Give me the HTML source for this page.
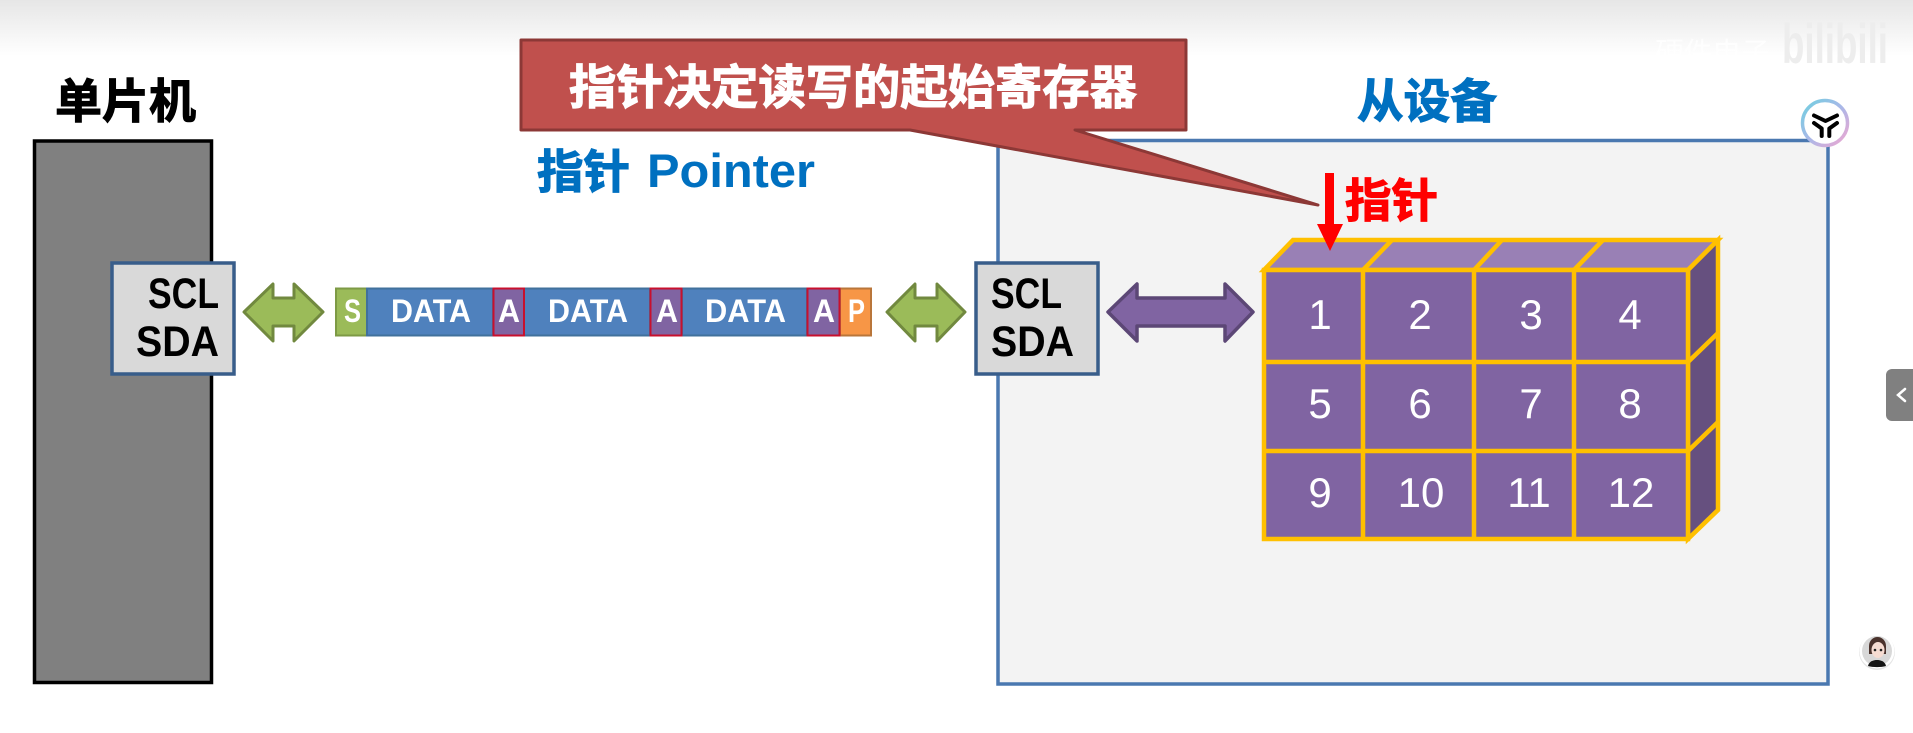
<!DOCTYPE html>
<html lang="zh-CN">
<head>
<meta charset="utf-8">
<title>指针 Pointer</title>
<style>
html,body{margin:0;padding:0;background:#fff;width:1913px;height:733px;overflow:hidden}
svg{display:block}
.cjk{font-family:"Liberation Sans","Noto Sans CJK SC",sans-serif;font-weight:700;stroke-width:1.1px;paint-order:stroke}
.lat{font-family:"Liberation Sans","Noto Sans CJK SC",sans-serif;font-weight:700}
.num{font-family:"Liberation Sans",sans-serif;font-size:42px;fill:#fff;text-anchor:middle}
</style>
</head>
<body>
<svg width="1913" height="733" viewBox="0 0 1913 733" xmlns="http://www.w3.org/2000/svg">
<defs>
<linearGradient id="top" x1="0" y1="0" x2="0" y2="1">
<stop offset="0" stop-color="#e6e6e6"/><stop offset="1" stop-color="#fff"/>
</linearGradient>
<linearGradient id="ring" x1="0" y1="0" x2="1" y2="1">
<stop offset="0" stop-color="#6fd0e0"/><stop offset="0.5" stop-color="#a9b8e8"/><stop offset="1" stop-color="#f0a6d0"/>
</linearGradient>
</defs>
<rect x="0" y="0" width="1913" height="56" fill="url(#top)"/>

<!-- watermark -->
<text x="1655" y="63" font-family="'Liberation Sans','Noto Sans CJK SC',sans-serif" font-size="29" fill="#fff" fill-opacity="0.75" textLength="115" lengthAdjust="spacingAndGlyphs">硬件电子</text>
<text x="1782" y="63" class="lat" font-size="56" fill="#ededed" textLength="106" lengthAdjust="spacingAndGlyphs">bilibili</text>

<!-- MCU -->
<rect x="34.500" y="141" width="177" height="541.500" fill="#808080" stroke="#000" stroke-width="3.500"/>
<text x="55" y="118" class="cjk" font-size="47" fill="#000" stroke="#000" textLength="141" lengthAdjust="spacingAndGlyphs">单片机</text>

<rect x="112" y="263" width="122" height="111" fill="#d9d9d9" stroke="#385d8a" stroke-width="3.500"/>
<text x="148" y="308" class="lat" font-size="43" fill="#000" textLength="71" lengthAdjust="spacingAndGlyphs">SCL</text>
<text x="136" y="356" class="lat" font-size="43" fill="#000" textLength="83" lengthAdjust="spacingAndGlyphs">SDA</text>

<!-- green arrow 1 -->
<polygon points="244,312 273,284 273,298 294,298 294,284 323,312 294,341 294,326 273,326 273,341" fill="#9bbb59" stroke="#71893f" stroke-width="3" stroke-linejoin="round"/>

<!-- data bar -->
<g stroke-width="2">
<rect x="336" y="288.500" width="31" height="47" fill="#9bbb59" stroke="#7d9a45"/>
<rect x="367" y="288.500" width="126" height="47" fill="#4f81bd" stroke="#41719c"/>
<rect x="524" y="288.500" width="126" height="47" fill="#4f81bd" stroke="#41719c"/>
<rect x="682" y="288.500" width="125" height="47" fill="#4f81bd" stroke="#41719c"/>
<rect x="840" y="288.500" width="31" height="47" fill="#f79646" stroke="#b9763a"/>
<rect x="493.500" y="288.500" width="30.500" height="47" fill="#8064a2" stroke="#c8102e"/>
<rect x="650.500" y="288.500" width="31" height="47" fill="#8064a2" stroke="#c8102e"/>
<rect x="807.500" y="288.500" width="32" height="47" fill="#8064a2" stroke="#c8102e"/>
</g>
<g class="lat" font-size="32" fill="#fff">
<text x="344" y="322" textLength="17" lengthAdjust="spacingAndGlyphs">S</text>
<text x="391" y="322" textLength="80" lengthAdjust="spacingAndGlyphs">DATA</text>
<text x="498" y="322" textLength="22" lengthAdjust="spacingAndGlyphs">A</text>
<text x="548" y="322" textLength="80" lengthAdjust="spacingAndGlyphs">DATA</text>
<text x="656" y="322" textLength="22" lengthAdjust="spacingAndGlyphs">A</text>
<text x="705" y="322" textLength="81" lengthAdjust="spacingAndGlyphs">DATA</text>
<text x="813" y="322" textLength="22" lengthAdjust="spacingAndGlyphs">A</text>
<text x="848" y="322" textLength="17" lengthAdjust="spacingAndGlyphs">P</text>
</g>

<!-- green arrow 2 -->
<polygon points="887,312 915,284 915,298 937,298 937,284 965,312 937,341 937,326 915,326 915,341" fill="#9bbb59" stroke="#71893f" stroke-width="3" stroke-linejoin="round"/>

<!-- slave box -->
<rect x="998" y="140.500" width="830" height="543.500" fill="#f3f3f3" stroke="#4a78b0" stroke-width="3.500"/>
<text x="1357" y="118" class="cjk" font-size="47" fill="#0070c0" stroke="#0070c0" textLength="140" lengthAdjust="spacingAndGlyphs">从设备</text>

<rect x="976" y="263" width="122" height="111" fill="#d9d9d9" stroke="#385d8a" stroke-width="3.500"/>
<text x="991" y="308" class="lat" font-size="43" fill="#000" textLength="71" lengthAdjust="spacingAndGlyphs">SCL</text>
<text x="991" y="356" class="lat" font-size="43" fill="#000" textLength="83" lengthAdjust="spacingAndGlyphs">SDA</text>

<!-- purple arrow -->
<polygon points="1108,312 1137,284 1137,298 1225,298 1225,284 1253,312 1225,341 1225,326 1137,326 1137,341" fill="#8064a2" stroke="#5c4776" stroke-width="3.500" stroke-linejoin="round"/>

<!-- pointer title -->
<text x="537" y="188" class="cjk" font-size="46" fill="#0070c0" stroke="#0070c0" textLength="93" lengthAdjust="spacingAndGlyphs">指针</text>
<text x="647" y="187" class="lat" font-size="47" fill="#0070c0" textLength="168" lengthAdjust="spacingAndGlyphs">Pointer</text>

<!-- register cube -->
<g stroke="#ffc000" stroke-width="4.500" stroke-linejoin="miter">
<polygon points="1264,270 1293,240 1718,240 1688,270" fill="#9980b5"/>
<polygon points="1688,270 1718,240 1718,510 1688,539" fill="#66507f"/>
<rect x="1264" y="270" width="424" height="269" fill="#8064a2"/>
<path d="M1363,270V539M1474,270V539M1574,270V539M1264,362H1688M1264,451H1688M1363,270L1392,240M1474,270L1502,240M1574,270L1603,240M1688,362L1718,333M1688,451L1718,422" fill="none"/>
</g>
<g class="num">
<text x="1320" y="329">1</text><text x="1420" y="329">2</text><text x="1531" y="329">3</text><text x="1630" y="329">4</text>
<text x="1320" y="418">5</text><text x="1420" y="418">6</text><text x="1531" y="418">7</text><text x="1630" y="418">8</text>
<text x="1320" y="507">9</text><text x="1421" y="507">10</text><text x="1529" y="507">11</text><text x="1631" y="507">12</text>
</g>

<!-- callout -->
<path d="M521,40H1186V130H1075L1318,205L910,130H521Z" fill="#c0504d" stroke="#8c3836" stroke-width="3" stroke-linejoin="round"/>
<text x="569" y="104" class="cjk" font-size="47" fill="#fff" stroke="#fff" textLength="568" lengthAdjust="spacingAndGlyphs">指针决定读写的起始寄存器</text>

<!-- red pointer -->
<polygon points="1325,173 1334,173 1334,224 1343,224 1330,251 1317,224 1325,224" fill="#f00"/>
<text x="1345" y="217" class="cjk" font-size="46" fill="#f00" stroke="#f00" textLength="93" lengthAdjust="spacingAndGlyphs">指针</text>

<!-- ring icon -->
<circle cx="1825" cy="123" r="22.500" fill="#fff" stroke="url(#ring)" stroke-width="3.500"/>
<g stroke="#000" stroke-width="4" stroke-linecap="round" stroke-linejoin="round" fill="none">
<path d="M1814,115.500L1825.500,121L1837,115.500"/>
<path d="M1814,123L1821.700,128.500V136"/>
<path d="M1837,123L1829.300,128.500V136"/>
</g>

<!-- side tab -->
<path d="M1913,369H1892a6,6 0 0 0 -6,6V415a6,6 0 0 0 6,6H1913Z" fill="#808080"/>
<path d="M1905,389L1898,395L1905,401" fill="none" stroke="#fff" stroke-width="2.500" stroke-linecap="round"/>

<!-- avatar -->
<circle cx="1877" cy="652" r="18" fill="#e4e4e4"/>
<circle cx="1877" cy="651" r="17.500" fill="#fff"/>
<circle cx="1877" cy="651" r="15" fill="#d8d8d8"/>
<path d="M1869,646a8.500,9 0 0 1 17,0v8h-17z" fill="#4a322c"/>
<ellipse cx="1878" cy="650" rx="6.500" ry="8" fill="#f6dcd2"/>
<path d="M1868,666c1,-5 6,-6 9,-6s8,1 9,6c-5,1.500 -13,1.500 -18,0z" fill="#151515"/>
<circle cx="1875" cy="650" r="1.300" fill="#222"/><circle cx="1881" cy="650" r="1.300" fill="#222"/>
</svg>
</body>
</html>
